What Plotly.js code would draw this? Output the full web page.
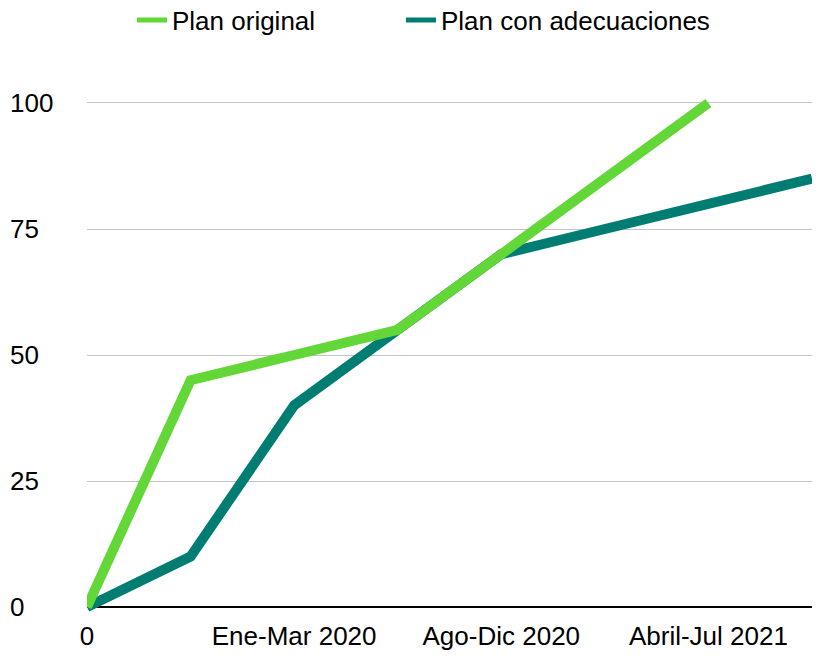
<!DOCTYPE html>
<html>
<head>
<meta charset="utf-8">
<script src="https://cdn.plot.ly/plotly-3.0.1.min.js"></script>
<style>html,body{margin:0;padding:0;background:#fff}#chart{width:817px;height:656px}</style>
</head>
<body>
<div id="chart"></div>
<script>
var periods = ["0", "", "Ene-Mar 2020", "", "Ago-Dic 2020", "", "Abril-Jul 2021", ""];
var planOriginal = [0, 45, 50, 55, 70, 85, 100];
var planAdecuaciones = [0, 10, 40, 55, 70, 75, 80, 85];
var yTicks = [0, 25, 50, 75, 100];

var idx = periods.map(function (_, i) { return i; });
var font = {family: "Liberation Sans, Arial, sans-serif", size: 26, color: "#000"};
var colOriginal = "#62d737", colAdecuaciones = "#007d72";

var traces = [
  {
    type: "scatter", mode: "lines", name: "Plan con adecuaciones", showlegend: false,
    x: idx.slice(0, planAdecuaciones.length), y: planAdecuaciones,
    line: {color: colAdecuaciones, width: 10}, hoverinfo: "skip"
  },
  {
    type: "scatter", mode: "lines", name: "Plan original", showlegend: false,
    x: idx.slice(0, planOriginal.length), y: planOriginal,
    line: {color: colOriginal, width: 10}, hoverinfo: "skip"
  },
  {
    type: "scatter", mode: "lines", name: "Plan original", legend: "legend", showlegend: true,
    x: [null], y: [null], line: {color: colOriginal, width: 5}, hoverinfo: "skip"
  },
  {
    type: "scatter", mode: "lines", name: "Plan con adecuaciones", legend: "legend2", showlegend: true,
    x: [null], y: [null], line: {color: colAdecuaciones, width: 5}, hoverinfo: "skip"
  }
];

var L = 6, R = 5, T = 60, B = 44;
var pw = 817 - L - R;
var legendBase = {
  orientation: "h", xanchor: "left", yanchor: "middle",
  y: 1 + (T - 20) / (656 - T - B), xref: "container",
  font: font, bgcolor: "rgba(0,0,0,0)"
};

var layout = {
  width: 817, height: 656,
  margin: {l: L, r: R, t: T, b: B, autoexpand: false},
  paper_bgcolor: "#fff", plot_bgcolor: "#fff",
  font: font,
  showlegend: true,
  legend: Object.assign({}, legendBase, {x: 132 / 817}),
  legend2: Object.assign({}, legendBase, {x: 401 / 817}),
  xaxis: {
    domain: [(87 - L) / pw, 1],
    range: [0, periods.length - 1],
    tickvals: idx, ticktext: periods,
    showgrid: false, zeroline: false, showline: false, ticks: "",
    ticklabelstandoff: 6, tickfont: font, fixedrange: true
  },
  yaxis: {
    anchor: "free", position: 0,
    range: [-0.99, 108.53],
    tickvals: yTicks, ticktext: yTicks.map(String),
    ticklabelposition: "inside", ticklabeloverflow: "allow",
    showgrid: true, gridcolor: "#c4c4c4", gridwidth: 1,
    zeroline: true, zerolinecolor: "#000", zerolinewidth: 2.5,
    showline: false, ticks: "", tickfont: font, fixedrange: true
  }
};

Plotly.newPlot("chart", traces, layout, {displayModeBar: false, staticPlot: true});
</script>
</body>
</html>
